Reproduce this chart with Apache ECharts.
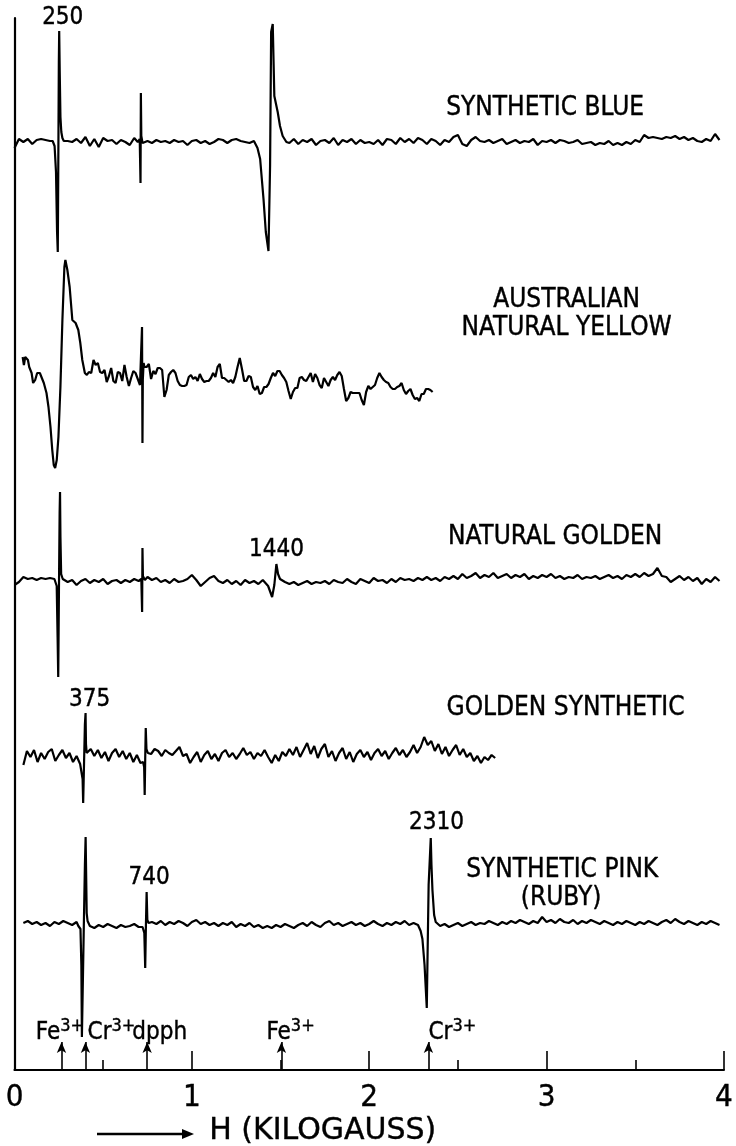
<!DOCTYPE html>
<html>
<head>
<meta charset="utf-8">
<script src="https://cdn.jsdelivr.net/npm/echarts/dist/echarts.min.js"></script>
<style>
  html, body { margin: 0; padding: 0; background: #fff; }
  #chart { width: 736px; height: 1146px; }
</style>
</head>
<body>
<div id="chart"></div>
<script>
// ---------------- DATA ----------------
// Field axis (kilogauss)
const xTicks = [0, 1, 2, 3, 4];

// Each spectrum: baseline noise sampled on a regular field grid (start, step),
// amplitude in arbitrary chart units; null = region covered by a resonance line.
// Resonance lines given as [field kG, amplitude] pairs.

// SYNTHETIC BLUE
const blueStart = 0, blueStep = 0.025;
const blueValues = [
  -6,3,0,3,-2,2,3,2,1,null,
  null,null,1,0,3,-1,5,-4,3,-5,
  4,1,2,-2,2,0,-3,4,null,-2,
  1,-1,2,0,1,-1,2,0,1,-3,
  1,2,-1,1,-2,0,3,2,-1,2,
  3,1,0,-1,1,null,null,null,null,null,
  null,null,-1,3,-2,2,0,3,-3,1,
  2,-1,4,-3,2,0,3,-2,2,-1,
  0,-2,2,-3,3,2,-2,4,0,3,
  -1,4,2,-2,3,1,-3,2,0,5,
  7,-2,-4,2,5,1,0,2,-1,1,
  3,-2,0,2,-1,1,0,3,-3,1,
  0,2,-1,2,1,-1,0,2,-2,-1,
  0,-3,-1,-2,1,-3,-1,-3,0,-2,
  2,0,7,4,5,4,3,5,4,6,
  3,5,2,4,1,0,3,1,8,2
];
const blueLines = [
  [[0.215,1],[0.226,-4],[0.234,-30],[0.240,-90],[0.244,-110],[0.247,-20],[0.250,80],[0.252,111],[0.255,70],[0.259,25],[0.264,10],[0.270,4],[0.278,1]],
  [[0.695,0],[0.706,3],[0.7105,-41],[0.7125,49],[0.715,6],[0.722,-1]],
  [[1.357,0],[1.370,-6],[1.385,-17],[1.404,-57],[1.417,-90],[1.432,-109],[1.441,-24],[1.447,110],[1.456,118],[1.465,46],[1.484,30],[1.497,16],[1.512,6],[1.533,0]]
];

// AUSTRALIAN NATURAL YELLOW
const ausStart = 0.4575, ausStep = 0.0125;
const ausValues = [
  0,2,-7,-8,-5,-17,-11,-3,-16,-18,
  -7,-8,-16,0,-12,-21,-13,-6,-8,-14,
  -20,null,null,-2,1,-14,-6,-9,-3,-3,
  -5,-32,-25,-10,-7,-5,-8,-16,-20,-21,
  -21,-20,-12,-10,-14,-12,-16,-9,-14,-17,
  -16,-16,-13,-8,-12,-2,1,-13,-13,-15,
  -17,-15,-18,-12,-2,7,-4,-16,-16,-11,
  -12,-22,-25,-21,-29,-28,-22,-22,-19,-13,
  -8,-11,-6,-6,-10,-13,-17,-26,-34,-27,
  -23,-23,-13,-12,-15,-16,-12,-8,-17,-9,
  -13,-20,-23,-13,-17,-21,-15,-12,-15,-10,
  -7,-11,-24,-36,-33,-27,-28,-28,-28,-28,
  -35,-40,-27,-21,-24,-22,-20,-13,-8,-12,
  -15,-17,-18,-22,-24,-24,-22,-21,-18,-25,
  -29,-26,-24,-30,-34,-33,-36,-29,-29,-24,
  -24,-25,-27
];
const ausLines = [
  [[0.046,8],[0.053,0],[0.0605,8],[0.068,7],[0.0757,5],[0.083,-2],[0.0964,-8],[0.105,-18],[0.1166,-15],[0.1278,-8],[0.1429,-8],[0.1541,-9],[0.1653,-18],[0.1804,-28],[0.1916,-42],[0.2029,-62],[0.2129,-85],[0.2213,-100],[0.2292,-103],[0.2382,-95],[0.2477,-72],[0.2589,-22],[0.2701,45],[0.2813,98],[0.2869,105],[0.2981,95],[0.311,78],[0.3261,45],[0.3446,42],[0.3598,35],[0.371,22],[0.3822,5],[0.3967,-8],[0.408,-10],[0.4192,-7],[0.4326,-8],[0.4455,5]],
  [[0.712,-20],[0.7175,-18],[0.719,38],[0.7215,-78],[0.7235,-15],[0.728,2],[0.733,-2]]
];

// NATURAL GOLDEN
const ngStart = 0, ngStep = 0.025;
const ngValues = [
  -3,0,5,3,4,2,4,3,4,3,
  null,4,0,2,-3,1,3,-1,2,0,
  3,-2,1,2,-1,2,0,3,1,null,
  5,2,4,0,2,-1,3,0,1,3,
  7,2,-4,0,4,6,1,-1,2,-2,
  1,-3,2,-1,1,-2,2,null,null,null,
  3,0,-2,0,-3,-1,1,-2,0,-1,
  1,-2,2,0,-1,3,0,-2,3,1,
  -1,4,1,2,-1,3,0,4,2,3,
  1,4,2,5,2,4,1,5,3,6,
  3,8,4,6,9,4,7,5,9,4,
  6,8,4,7,5,8,3,6,4,7,
  5,8,4,6,3,5,4,7,3,5,
  4,6,3,5,7,4,6,3,7,5,
  8,5,9,6,8,14,6,5,0,3,
  6,2,5,1,4,-2,3,0,5,1
];
const ngLines = [
  [[0.23,2],[0.238,-4],[0.243,-55],[0.2466,-95],[0.2505,-10],[0.2545,70],[0.2567,90],[0.259,45],[0.263,8],[0.272,3]],
  [[0.705,1],[0.715,3],[0.7195,-30],[0.7215,34],[0.724,6],[0.735,2]],
  [[1.405,1],[1.43,-4],[1.4525,-15],[1.465,-3],[1.4766,18],[1.486,8],[1.497,3]]
];

// GOLDEN SYNTHETIC
const gsStart = 0.05, gsStep = 0.02;
const gsValues = [
  -6,8,2,9,-3,6,0,7,10,-2,
  4,9,1,6,-3,3,-5,null,8,10,
  3,9,1,7,-2,6,10,2,8,0,
  6,-3,4,-4,null,null,5,10,8,3,
  9,6,4,8,12,3,5,-4,2,7,
  -3,4,8,0,5,-2,6,9,2,6,
  0,5,11,4,7,0,6,3,9,2,
  -4,4,-2,7,3,10,4,12,2,9,
  16,5,13,1,10,15,2,8,-2,6,
  11,0,7,-3,5,9,2,7,-1,6,
  10,3,8,0,6,11,4,9,2,7,
  14,6,12,22,14,18,8,15,5,12,
  3,9,14,4,10,2,6,-2,3,-4,
  2,-1,4,1
];
const gsLines = [
  [[0.378,-4],[0.384,-20],[0.3872,-44],[0.392,-5],[0.397,35],[0.4007,46],[0.403,15],[0.407,6]],
  [[0.725,-3],[0.731,-8],[0.734,-36],[0.737,0],[0.740,31],[0.744,10],[0.752,6]]
];

// SYNTHETIC PINK (RUBY)
const pkStart = 0.05, pkStep = 0.025;
const pkValues = [
  2,4,1,3,0,2,-1,3,1,4,
  2,0,3,null,null,-1,-3,0,-2,1,
  -1,-3,0,-2,-1,1,-2,null,null,3,
  1,4,0,3,1,4,2,-1,3,5,
  1,3,0,2,-1,2,0,3,-2,1,
  -1,2,-2,0,-3,-1,-3,0,-2,1,
  -1,-3,0,2,-1,3,0,-2,2,4,
  0,2,-1,1,3,0,2,-1,1,4,
  1,-1,2,0,3,1,4,0,2,0,
  null,null,null,null,-1,1,-2,0,2,-1,
  1,3,0,2,1,4,2,0,3,1,
  4,2,5,3,1,4,2,8,3,5,
  2,6,3,2,5,1,4,2,5,3,
  1,4,2,0,3,1,4,2,0,3,
  1,4,2,0,3,5,2,6,3,1,
  4,2,0,3,1,4,2,0
];
const pkLines = [
  [[0.36,-1],[0.372,-4],[0.377,-40],[0.380,-112],[0.390,-10],[0.397,60],[0.401,88],[0.404,50],[0.407,12],[0.412,4],[0.42,2]],
  [[0.722,-2],[0.732,-8],[0.737,-43],[0.741,0],[0.745,33],[0.749,5],[0.756,2]],
  [[2.28,-2],[2.29,-6],[2.30,-14],[2.312,-40],[2.3245,-83],[2.329,-30],[2.335,40],[2.347,87],[2.351,60],[2.3565,35],[2.366,10],[2.375,3],[2.385,1]]
];

// Marker arrows on field axis
const markerNames = ['Fe', 'Cr', 'dpph', 'Fe', 'Cr'];
const markerCharges = ['3+', '3+', '', '3+', '3+'];
const markerFields = [0.265, 0.40, 0.748, 1.505, 2.334];

// ---------------- BUILD ----------------
const FONT = "'Liberation Sans Narrow', 'DejaVu Sans Condensed', 'Liberation Sans', sans-serif";
const Y_MAX = 1052;

function buildTrace(start, step, values, lines, offset) {
  const pts = [];
  values.forEach((v, i) => {
    if (v === null) return;
    const x = +(start + step * i).toFixed(5);
    pts.push([x, v]);
  });
  lines.forEach(l => l.forEach(p => pts.push([p[0], p[1]])));
  pts.sort((a, b) => a[0] - b[0]);
  return pts.map(p => [p[0], p[1] + offset]);
}

// vertical stacking offsets of the five spectra
const traces = [
  buildTrace(blueStart, blueStep, blueValues, blueLines, 928),
  buildTrace(ausStart, ausStep, ausValues, ausLines, 705),
  buildTrace(ngStart, ngStep, ngValues, ngLines, 488),
  buildTrace(gsStart, gsStep, gsValues, gsLines, 311),
  buildTrace(pkStart, pkStep, pkValues, pkLines, 145)
];

// text annotations (label placement in chart units)
const annotations = [
  { t: '250', x: 0.272, y: 1052, fs: 24 },
  { t: '1440', x: 1.477, y: 520, fs: 24 },
  { t: '375', x: 0.423, y: 370, fs: 24 },
  { t: '2310', x: 2.379, y: 247, fs: 24 },
  { t: '740', x: 0.759, y: 192, fs: 24 },
  { t: 'SYNTHETIC BLUE', x: 2.992, y: 962, fs: 26 },
  { t: 'AUSTRALIAN', x: 3.113, y: 770, fs: 26 },
  { t: 'NATURAL YELLOW', x: 3.113, y: 742, fs: 26 },
  { t: 'NATURAL GOLDEN', x: 3.048, y: 533, fs: 26 },
  { t: 'GOLDEN SYNTHETIC', x: 3.107, y: 362, fs: 26 },
  { t: 'SYNTHETIC PINK', x: 3.088, y: 200, fs: 26 },
  { t: '(RUBY)', x: 3.082, y: 172, fs: 26 }
];
const markerLabelX = [0.1204, 0.412, 0.664, 1.4206, 2.334];

const TXT = { color: '#000', textBorderColor: '#000', textBorderWidth: 0.4 };

const series = traces.map(d => ({
  type: 'line', data: d, showSymbol: false, symbol: 'none',
  lineStyle: { color: '#000', width: 2.2 }, silent: true, animation: false
}));

series.push({
  type: 'scatter', symbolSize: 0, clip: false, silent: true, animation: false,
  itemStyle: { opacity: 1, color: '#000' },
  data: annotations.map(a => ({
    value: [a.x, a.y],
    label: Object.assign({ show: true, position: 'inside', formatter: a.t, fontSize: a.fs,
             fontFamily: FONT }, TXT)
  }))
});

series.push({
  type: 'scatter', symbolSize: 0, clip: false, silent: true, animation: false,
  itemStyle: { opacity: 1, color: '#000' },
  data: markerNames.map((n, i) => ({
    value: [markerLabelX[i], 39],
    label: {
      show: true, position: 'right', distance: 0,
      formatter: markerCharges[i] ? '{b|' + n + '}{s|' + markerCharges[i] + '}' : '{b|' + n + '}',
      rich: {
        b: Object.assign({ fontSize: 24, fontFamily: FONT, verticalAlign: 'bottom', lineHeight: 28 }, TXT),
        s: Object.assign({ fontSize: 18, fontFamily: FONT, verticalAlign: 'bottom', lineHeight: 28, padding: [0, 0, 10, 0] }, TXT)
      }
    }
  }))
});

// arrows
series.push({
  type: 'line', data: [], silent: true, animation: false,
  markLine: {
    silent: true, animation: false,
    symbol: ['none', 'arrow'], symbolSize: [7, 11],
    label: { show: false },
    lineStyle: { color: '#000', width: 1.6, type: 'solid' },
    data: markerFields.map(f => [{ coord: [f, 0] }, { coord: [f, 28] }])
  }
});

const chart = echarts.init(document.getElementById('chart'), null, { renderer: 'canvas' });
chart.setOption({
  animation: false,
  backgroundColor: '#fff',
  grid: { left: 14.5, right: 7.7, top: 18, bottom: 76, containLabel: false },
  xAxis: {
    type: 'value', min: 0, max: 4, interval: 1,
    axisLine: { show: true, onZero: false, lineStyle: { color: '#000', width: 2.2 } },
    axisTick: { show: true, inside: true, length: 19, lineStyle: { color: '#000', width: 1.6 } },
    minorTick: { show: true, splitNumber: 2, length: 10, lineStyle: { color: '#000', width: 1.6 } },
    splitLine: { show: false }, minorSplitLine: { show: false },
    axisLabel: Object.assign({ show: true, fontSize: 31, fontFamily: FONT, margin: 12,
                 formatter: v => xTicks.indexOf(v) >= 0 ? String(v) : '' }, TXT)
  },
  yAxis: {
    type: 'value', min: 0, max: Y_MAX,
    axisLine: { show: true, onZero: false, lineStyle: { color: '#000', width: 2.2 } },
    axisTick: { show: false }, axisLabel: { show: false }, splitLine: { show: false }
  },
  graphic: [
    { type: 'line', shape: { x1: 97, y1: 1134, x2: 186, y2: 1134 }, style: { stroke: '#000', lineWidth: 2.5 } },
    { type: 'polygon', shape: { points: [[194, 1134], [182, 1129], [182, 1139]] }, style: { fill: '#000' } },
    { type: 'text', left: 209, top: 1116, style: { text: 'H (KILOGAUSS)', fontSize: 30, fontFamily: "'DejaVu Sans', sans-serif", fill: '#000', stroke: '#000', lineWidth: 0.4 } }
  ],
  series: series
});
</script>
</body>
</html>
